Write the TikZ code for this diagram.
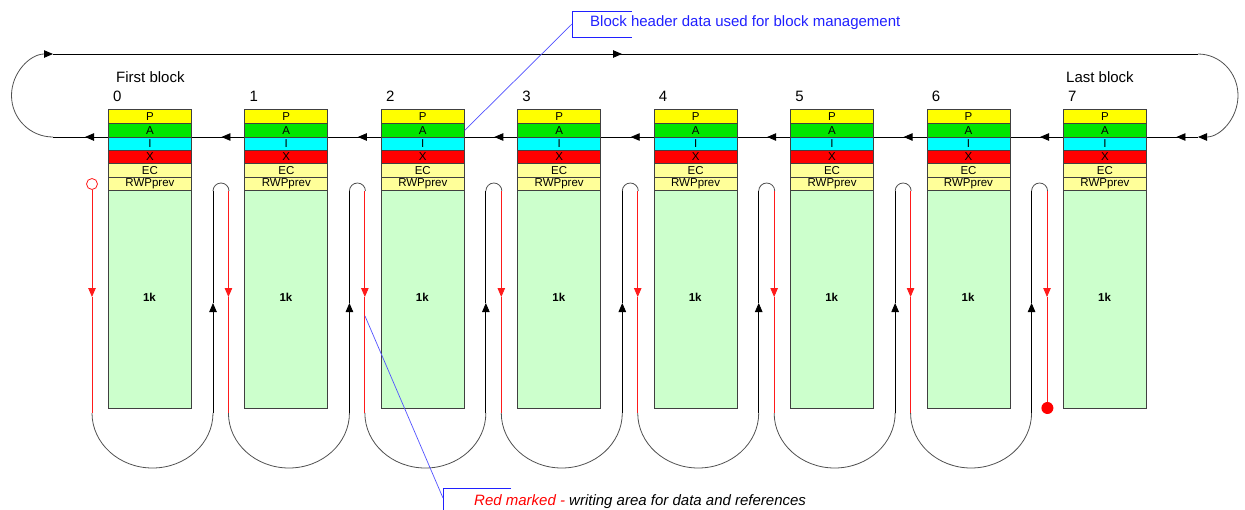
\documentclass[tikz,border=0pt]{standalone}
\usepackage{fontspec}
\setmainfont{Liberation Sans}
\usetikzlibrary{arrows.meta}
\definecolor{cP}{HTML}{FFFF00}
\definecolor{cA}{HTML}{00E600}
\definecolor{cI}{HTML}{00FFFF}
\definecolor{cX}{HTML}{FF0000}
\definecolor{cE}{HTML}{FFFF99}
\definecolor{cB}{HTML}{CCFFCC}
\definecolor{cBorder}{HTML}{404040}
\definecolor{cArc}{HTML}{505050}
\definecolor{cRed}{HTML}{FF1A1A}
\definecolor{cBlue}{HTML}{2020FF}
\definecolor{cLead}{HTML}{5050FF}
\begin{document}
\begin{tikzpicture}[x=1pt,y=1pt,
  tipa/.style={-{Triangle[length=9pt,width=7.5pt]}},
  tipk/.style={-{Triangle[length=9pt,width=7.5pt,color=black]}},
  blk/.style={draw=black,line width=0.8pt},
  arcline/.style={draw=cArc,line width=0.8pt},
  redl/.style={draw=cRed,line width=0.8pt},
  rowbox/.style={draw=cBorder,line width=0.8pt,minimum width=83pt,inner sep=0pt,anchor=north west,
    font=\fontsize{11.5}{12}\selectfont},
  lbl/.style={inner sep=0pt,anchor=base west,font=\fontsize{15}{17}\selectfont},
  lead/.style={draw=cLead,line width=0.7pt}]
\useasboundingbox (0,0) rectangle (1245,-509);
\clip (0,0) rectangle (1245,-509);

% top ring line
\coordinate (tl) at (53,-54);
\coordinate (tr) at (1198,-54);
\coordinate (ml) at (53,-137);
\coordinate (mr) at (1198,-137);
\draw[blk] (tl) -- (tr);
\draw[blk,tipa] (612,-54) -- (622,-54);
\draw[arcline,tipk] (ml) arc[start angle=270,end angle=90,radius=41.5];
\draw[arcline,tipk] (tr) arc[start angle=90,end angle=-90,x radius=40,y radius=41.5];
\draw[blk] (mr) -- (ml);
\foreach \k in {0,...,8}{
  \pgfmathsetmacro\tx{108+136.43*\k-23}
  \draw[blk,tipa] (\tx+10,-137) -- (\tx,-137);
}

% blocks
\foreach \k in {0,...,7}{
  \pgfmathsetmacro\L{108+136.43*\k}
  \node[rowbox,fill=cP,minimum height=14pt] (p\k) at (\L,-109) {P};
  \node[rowbox,fill=cA,minimum height=14pt] (a\k) at (\L,-123) {A};
  \node[rowbox,fill=cI,minimum height=12.5pt] (i\k) at (\L,-137) {I};
  \node[rowbox,fill=cX,minimum height=13.5pt] (x\k) at (\L,-149.5) {X};
  \node[rowbox,fill=cE,minimum height=14pt] (e\k) at (\L,-163) {EC};
  \node[rowbox,fill=cE,minimum height=13pt] (r\k) at (\L,-177) {RWPprev};
  \node[rowbox,fill=cB,minimum height=218pt] (d\k) at (\L,-190) {};
  \node[inner sep=0pt,font=\fontsize{11.5}{12}\selectfont\bfseries] (k\k) at (\L+41.5,-297) {1k};
  \node[lbl] (n\k) at (\L+5,-101) {\k};
}
\node[lbl] (first) at (116,-82) {First block};
\node[lbl] (last) at (1066,-82) {Last block};

% writing loops
\foreach \k in {0,...,6}{
  \pgfmathsetmacro\rx{92+136.43*\k}
  \pgfmathsetmacro\bx{213+136.43*\k}
  \draw[arcline] (\rx,-413) arc[start angle=180,end angle=360,x radius=60.5,y radius=55];
  \draw[blk,tipa] (\bx,-413) -- (\bx,-303);
  \draw[blk] (\bx,-303) -- (\bx,-191);
  \draw[arcline] (\bx,-191) arc[start angle=180,end angle=0,radius=8];
}
\foreach \k in {0,...,7}{
  \pgfmathsetmacro\rx{92+136.43*\k}
  \pgfmathsetmacro\sy{ifthenelse(\k==0,189.5,191)}
  \pgfmathsetmacro\ey{ifthenelse(\k==7,408,413)}
  \draw[redl,tipa] (\rx,-\sy) -- (\rx,-297);
  \draw[redl] (\rx,-297) -- (\rx,-\ey);
}
\node[circle,draw=cRed,fill=white,line width=0.8pt,minimum size=11pt,inner sep=0pt] (start) at (92,-184) {};
\node[circle,fill=red,minimum size=12pt,inner sep=0pt] (stop) at (1047.4,-408) {};

% callouts
\coordinate (c1) at (572,-24);
\draw[draw=cBlue,line width=0.8pt] (632,-11) -- (572,-11) -- (572,-37) -- (632,-37);
\draw[lead] (c1) -- (a2.east);
\node[inner sep=0pt,anchor=west,text=cBlue,font=\fontsize{15}{17}\selectfont] (hdr) at (590,-23) {Block header data used for block management};

\coordinate (c2) at (443,-498);
\coordinate (c2t) at (365,-316);
\draw[draw=cBlue,line width=0.8pt] (511,-488) -- (443,-488) -- (443,-515);
\draw[lead] (c2) -- (c2t);
\node[inner sep=0pt,anchor=base west,font=\fontsize{15}{17}\selectfont\itshape] (wr) at (474,-505)
  {\textcolor{red}{Red marked -} writing area for data and references};
\end{tikzpicture}
\end{document}
